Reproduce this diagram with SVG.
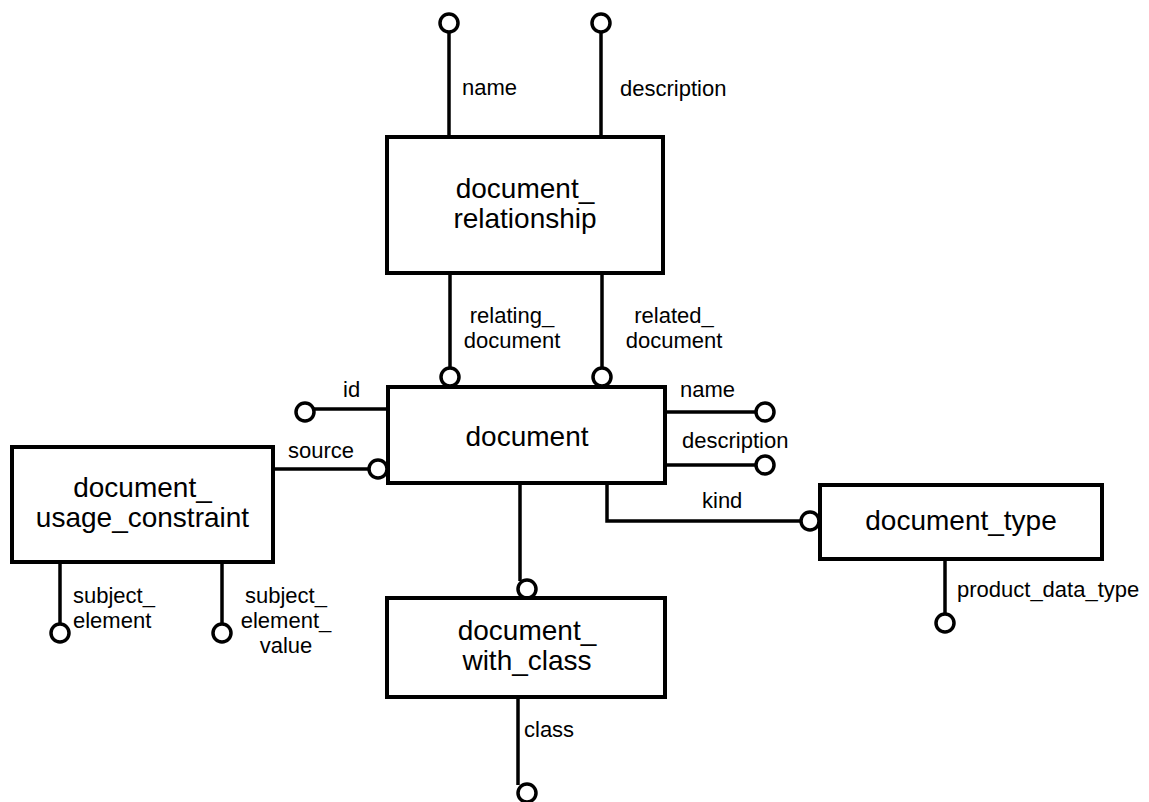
<svg xmlns="http://www.w3.org/2000/svg" width="1149" height="802" viewBox="0 0 1149 802">
<style>
.box{fill:#fff;stroke:#000;stroke-width:4}
.ln{fill:none;stroke:#000;stroke-width:3.5}
.end{fill:#fff;stroke:#000;stroke-width:3.5}
.t{font-family:"Liberation Sans",Arial,sans-serif;font-size:28px;fill:#000;text-anchor:middle}
.l{font-family:"Liberation Sans",Arial,sans-serif;font-size:22px;fill:#000}
.c{text-anchor:middle}
</style>
<rect width="1149" height="802" fill="#fff"/>
<g id="connectors">
<line class="ln" x1="449" y1="32" x2="449" y2="137"/>
<circle class="end" cx="449" cy="23" r="9"/>
<line class="ln" x1="601" y1="32" x2="601" y2="137"/>
<circle class="end" cx="601" cy="23" r="9"/>
<line class="ln" x1="450" y1="273" x2="450" y2="368"/>
<circle class="end" cx="450" cy="377" r="9"/>
<line class="ln" x1="602" y1="273" x2="602" y2="368"/>
<circle class="end" cx="602" cy="377" r="9"/>
<line class="ln" x1="313" y1="409" x2="388" y2="409"/>
<circle class="end" cx="305" cy="412" r="9"/>
<line class="ln" x1="273" y1="469" x2="369" y2="469"/>
<circle class="end" cx="378" cy="469" r="9"/>
<line class="ln" x1="665" y1="412" x2="756" y2="412"/>
<circle class="end" cx="765" cy="412" r="9"/>
<line class="ln" x1="665" y1="465" x2="756" y2="465"/>
<circle class="end" cx="765" cy="465" r="9"/>
<polyline class="ln" points="607,483 607,521 801,521"/>
<circle class="end" cx="810" cy="521" r="9"/>
<line class="ln" x1="520" y1="483" x2="520" y2="581"/>
<circle class="end" cx="527" cy="589" r="9"/>
<line class="ln" x1="518" y1="697" x2="518" y2="785"/>
<circle class="end" cx="527" cy="793" r="9"/>
<line class="ln" x1="60" y1="562" x2="60" y2="624"/>
<circle class="end" cx="60" cy="633" r="9"/>
<line class="ln" x1="222" y1="562" x2="222" y2="624"/>
<circle class="end" cx="222" cy="633" r="9"/>
<line class="ln" x1="945" y1="559" x2="945" y2="614"/>
<circle class="end" cx="945" cy="623" r="9"/>
<text class="l" x="462" y="95">name</text>
<text class="l" x="620" y="96">description</text>
<text class="l c" x="512" y="323">relating_</text>
<text class="l c" x="512" y="348">document</text>
<text class="l c" x="674" y="323">related_</text>
<text class="l c" x="674" y="348">document</text>
<text class="l" x="343" y="397">id</text>
<text class="l" x="288" y="458">source</text>
<text class="l" x="680" y="397">name</text>
<text class="l" x="682" y="448">description</text>
<text class="l" x="702" y="508">kind</text>
<text class="l" x="73" y="603">subject_</text>
<text class="l" x="73" y="628">element</text>
<text class="l c" x="286" y="603">subject_</text>
<text class="l c" x="286" y="628">element_</text>
<text class="l c" x="286" y="653">value</text>
<text class="l" x="957" y="597">product_data_type</text>
<text class="l" x="524" y="737">class</text>
</g>
<g id="document_relationship">
<rect class="box" x="387" y="137" width="276" height="136"/>
<text class="t" x="525" y="198">document_</text>
<text class="t" x="525" y="228">relationship</text>
</g>
<g id="document">
<rect class="box" x="388" y="387" width="277" height="96"/>
<text class="t" x="527" y="446">document</text>
</g>
<g id="document_usage_constraint">
<rect class="box" x="12" y="447" width="261" height="115"/>
<text class="t" x="142.5" y="497">document_</text>
<text class="t" x="142.5" y="527">usage_constraint</text>
</g>
<g id="document_type">
<rect class="box" x="820" y="485" width="282" height="74"/>
<text class="t" x="961" y="530">document_type</text>
</g>
<g id="document_with_class">
<rect class="box" x="387" y="598" width="278" height="99"/>
<text class="t" x="527" y="640">document_</text>
<text class="t" x="527" y="670">with_class</text>
</g>
</svg>
